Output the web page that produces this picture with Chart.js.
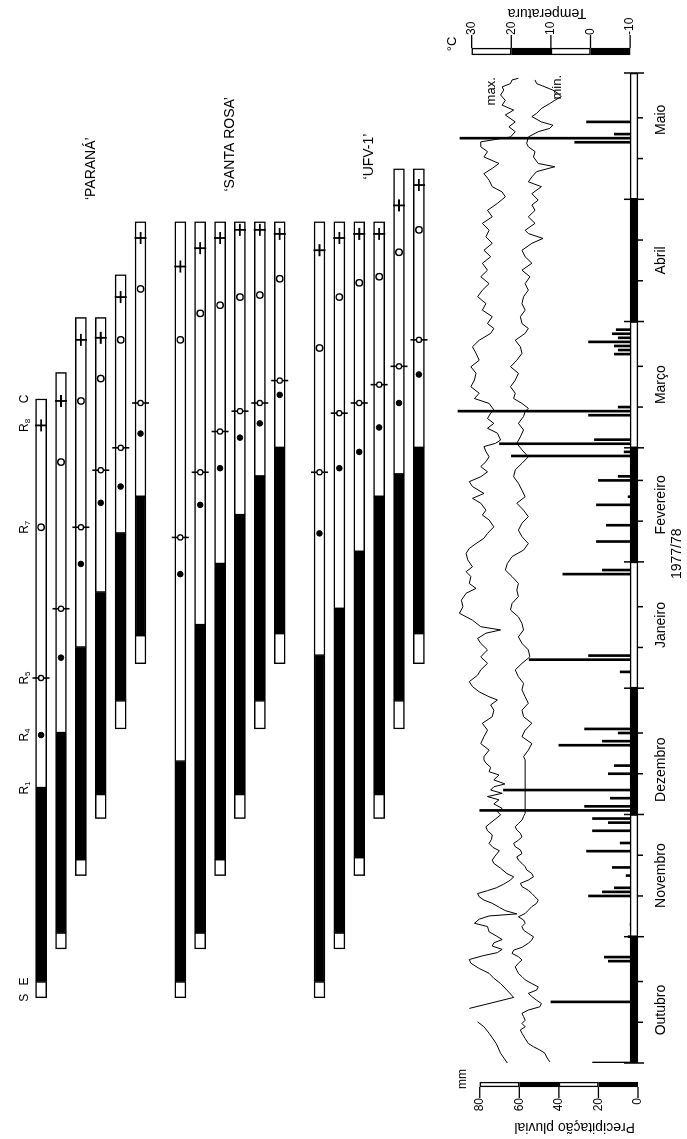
<!DOCTYPE html>
<html>
<head>
<meta charset="utf-8">
<script src="https://cdn.jsdelivr.net/npm/chart.js@4.4.1/dist/chart.umd.min.js"></script>
<style>
  html, body { margin: 0; padding: 0; background: #fff; }
  body { width: 687px; height: 1139px; overflow: hidden; position: relative; }
  /* the figure is drawn lying down (time left to right) and turned a quarter turn */
  #wrap { position: absolute; left: 0; top: 0; width: 1139px; height: 687px;
          transform-origin: 0 0; transform: translate(0, 1139px) rotate(-90deg); }
</style>
</head>
<body>
<div id="wrap"><canvas id="chart" width="1139" height="687"></canvas></div>
<script>
// days counted from 1 Oct 1977 (day 0)
const monthNames = ['Outubro', 'Novembro', 'Dezembro', 'Janeiro', 'Fevereiro', 'Março', 'Abril', 'Maio'];
const monthStarts = [0, 31, 61, 92, 123, 151, 182, 212, 243];
const monthLabelDays = [13, 46, 72, 107.5, 137, 166.5, 197, 231.5];

const cultivars = ['‘PARANÁ’', '‘SANTA ROSA’', '‘UFV-1’'];
const cultivarLabelDays = [219.5, 225.5, 222.5];

// 6 sowings per cultivar: Paraná 1-6, Santa Rosa 1-6, UFV-1 1-6
const sowing    = [16, 28, 46, 60, 82, 98,   16, 28, 46, 60, 82, 98,   16, 28, 46, 60, 82, 98];
const emergence = [20, 32, 50, 66, 89, 105,  20, 32, 50, 66, 89, 105.5, 20, 32, 50.5, 66, 89, 105.5];
const r1        = [67.5, 81, 102, 115.5, 130, 139,  74, 107.5, 122.5, 134.5, 144, 151,  100, 111.5, 125.5, 139, 144.5, 151];
const r4        = [80.5, 99.5, 122.5, 137.5, 141.5, 154.5,  120, 137, 146, 153.5, 157, 164,  130, 146, 150, 156, 162, 169];
const r5        = [94.5, 111.5, 131.5, 145.5, 151, 162,  129, 145, 155, 160, 162, 167.5,  145, 159.5, 162, 166.5, 171, 177.5];
const r7        = [131.5, 147.5, 162.5, 168, 177.5, 190,  177.5, 184, 186, 188, 188.5, 192.5,  175.5, 188, 191.5, 193, 199, 204.5];
const r8        = [156.5, 162.5, 177.5, 178, 188, 202.5,  195.5, 200, 202.5, 204.5, 204.5, 203.5,  199.5, 202.5, 203.5, 203.5, 210.5, 215.5];
const harvest   = [163, 169.5, 183, 183, 193.5, 206.5,  206.5, 206.5, 206.5, 206.5, 206.5, 206.5,  206.5, 206.5, 206.5, 206.5, 219.5, 219.5];

const phaseNames = ['S', 'E', 'R1', 'R4', 'R5', 'R7', 'R8', 'C'];

// daily rainfall, mm
const rainDays = [0, 15, 25, 26, 31, 34, 36, 41, 42, 43, 46, 48, 52, 54, 57, 59, 60, 62, 63, 65,
  67, 71, 73, 78, 79, 81, 82, 96, 97, 99, 100, 101, 107, 111, 118, 120, 121, 128, 132, 137,
  139, 143, 144, 149, 150, 152, 153, 159, 160, 161, 174, 175, 176, 177, 178, 179, 180, 226, 227, 228, 231];
const rainMM = [23, 44, 15, 17, 5, 4, 3, 25, 18, 12, 6, 13, 26, 9, 23, 15, 23, 80, 27, 14,
  68, 15, 12, 40, 18, 10, 27, 9, 2, 55, 25, 2, 3, 3, 3, 38, 18, 21, 16, 21,
  5, 20, 10, 64, 7, 70, 22, 25, 91, 10, 12, 10, 12, 25, 10, 13, 11, 32, 90, 12, 26];

// daily temperatures, [day, °C]
const tMax = [[0,21.0],[2.4,22.7],[4.8,23.8],[7.3,25.6],[8.9,26.9],[10.1,28.5],[11,null],[13.4,30.6],[16.1,19.4],
  [17.9,21.1],[19.5,22.7],[20.8,24.4],[22.0,25.6],[23.2,28.1],[24.5,30.2],[25.4,30.6],[26.3,27.3],[27.1,23.5],
  [27.9,22.3],[28.7,24.8],[29.5,24.4],[30.3,22.3],[31.2,23.8],[32.2,25.6],[33.5,26.0],[34.3,29.3],[35.3,28.1],
  [36.1,25.6],[36.6,18.6],[37.4,21.5],[38.2,23.0],[39.2,24.8],[40.0,26.9],[40.8,28.1],[41.6,28.5],[42.3,26.0],
  [43.0,23.8],[43.9,21.9],[44.9,20.2],[45.7,19.4],[46.5,21.1],[47.8,22.7],[49.0,24.4],[49.8,24.8],[50.8,24.1],
  [52.1,23.0],[52.9,24.6],[53.9,25.6],[54.9,25.0],[56.0,24.8],[57.0,26.0],[58.0,26.4],[58.8,25.4],[59.8,24.1],
  [60.9,22.7],[61.7,23.5],[62.5,22.3],[63.6,24.4],[64.6,23.1],[65.4,26.0],[66.2,22.3],[67.0,25.2],[67.8,24.4],
  [68.5,21.6],[69.5,24.4],[70.7,23.1],[71.5,25.6],[72.6,25.2],[73.6,26.4],[74.4,26.9],
  [75.2,26.9],[76.8,25.6],[78.4,27.7],[80.1,26.9],[81.7,26.0],[83.4,27.3],[85.0,24.8],[86.6,24.4],[87.9,25.2],
  [89.1,23.5],[89.9,25.6],[91.1,28.1],[92.4,29.8],[93.6,30.6],[95.2,28.5],[96.5,27.7],[98.1,26.0],[99.7,27.7],
  [101.4,26.0],[103.0,27.7],[104.2,28.5],[105.5,26.4],[106.3,22.7],[107.1,27.7],[108.7,29.8],[110.4,33.1],
  [112.0,32.2],[113.6,32.6],[115.3,31.4],[116.5,28.9],[117.7,30.6],[119.4,30.2],[120.6,31.4],[121.8,29.8],
  [123.5,31.0],[125.1,31.4],[126.3,30.6],[127.5,28.9],[128.8,26.9],[130.0,26.0],[131.6,24.4],[133.3,25.6],
  [134.5,27.3],[135.7,26.4],[137.4,27.7],[138.6,29.8],[139.8,26.9],[141.5,29.8],[142.7,30.6],[143.9,27.7],
  [145.1,26.0],[146.4,27.7],[147.6,26.4],[148.8,25.6],[150.1,26.4],[151.3,26.9],[152.1,24.0],[152.9,22.7],
  [154.6,23.5],[155.8,26.0],[157.0,24.4],[158.2,26.0],[159.5,25.2],[160.3,24.4],[161.9,25.6],[163.1,29.3],
  [164.4,28.1],[166.0,30.2],[167.65,29.3],
  [169.3,28.9],[170.9,30.2],[172.5,28.1],[174.2,28.9],[175.8,29.8],[177.4,28.1],[179.1,25.2],[180.3,24.4],
  [181.5,26.0],[183.2,24.8],[184.8,27.3],[186.4,26.4],[188.1,28.5],[189.7,27.3],[191.3,25.6],[193.0,27.7],
  [194.6,26.0],[196.3,27.3],[197.9,25.2],[199.5,26.9],[201.2,24.8],[202.8,26.4],[204.4,25.6],[206.1,27.3],
  [207.7,24.8],[209.3,26.0],[211.0,23.5],[212.6,21.5],[213.8,22.3],[215.1,24.8],[216.7,25.6],[218.3,26.9],
  [219.6,24.8],[220.8,23.1],[222.4,26.9],[223.7,26.0],[224.9,27.7],[226.1,27.7],[227.3,20.2],[228.6,19.0],
  [229.8,20.6],[231.0,19.0],[232.7,21.5],[233.9,19.4],[235.1,22.3],[236.3,21.5],[237.6,22.7],[238.8,21.9],
  [239.6,22.3],[240.4,20.2],[241.3,19.8],[241.7,18.2]];

const tMin = [[0.3,10.3],[1.5,11.1],[2.4,11.5],[3.2,12.8],[4.0,14.4],[4.8,15.7],[6.0,16.5],[7.3,17.3],[8.1,17.7],
  [8.9,16.5],[9.7,17.3],[10.5,16.5],[11.4,16.9],[12.2,17.3],[13.0,15.7],[13.8,12.8],[14.6,12.4],[15.4,13.6],
  [16.3,14.8],[17.1,15.7],[17.9,13.6],[18.7,13.2],[19.5,14.8],[20.4,16.5],[21.2,17.3],[22.0,18.2],[22.8,18.6],
  [23.6,19.0],[24.5,18.2],[25.3,17.3],[26.1,18.2],[26.9,19.8],[27.7,19.4],[28.4,17.3],[29.4,15.7],[30.2,14.8],
  [31.0,14.4],[31.8,15.7],[32.6,16.9],[33.5,17.3],[34.3,16.5],[35.1,16.9],[35.9,18.2],[36.7,16.5],[37.5,15.7],
  [38.4,14.8],[39.2,13.6],[40.0,13.2],[40.8,14.0],[41.6,14.8],[42.4,15.7],[43.3,17.3],[44.1,17.7],[44.9,15.7],
  [45.7,14.4],[46.5,14.8],[47.4,16.1],[48.2,16.5],[49.0,17.3],[49.8,18.2],[50.6,18.6],[51.4,17.3],[52.3,17.7],
  [53.1,19.0],[53.9,19.4],[54.7,18.2],[55.5,17.3],[56.4,17.7],[57.2,18.6],[58.0,19.0],[58.8,18.2],[59.6,17.3],
  [60.5,16.9],[61.3,16.5],[62.1,16.5],[74.4,16.5],
  [75.2,16.9],[76.8,15.7],[78.4,14.8],[80.1,17.3],[81.7,16.5],[83.4,14.8],[85.0,16.9],[86.6,17.3],[88.3,15.7],
  [89.9,16.5],[91.6,17.3],[93.2,16.9],[94.8,18.2],[96.5,19.0],[98.1,17.3],[99.7,15.3],[101.4,15.7],[103.0,17.3],
  [104.6,18.2],[106.3,16.9],[107.9,17.3],[109.5,18.2],[111.2,20.2],[112.8,19.8],[114.5,18.2],[116.1,18.6],
  [117.7,18.2],[119.4,19.8],[121.0,21.5],[122.6,21.0],[124.3,19.8],[125.9,16.9],[127.5,15.7],[129.2,17.3],
  [130.8,18.2],[132.5,17.3],[134.1,15.7],[135.7,16.9],[137.4,18.6],[139.0,16.5],[140.6,17.3],[142.3,18.2],
  [143.9,19.4],[145.6,19.0],[147.2,17.3],[148.8,15.7],[150.5,17.3],[152.1,18.6],[153.7,17.7],[155.4,16.9],
  [157.0,18.2],[158.7,16.9],[159.9,16.5],[160.7,15.7],[161.9,17.3],[163.1,19.4],[164.4,19.0],[166.0,20.2],
  [167.6,19.0],[169.3,18.2],[170.9,20.2],[172.5,18.6],[174.2,17.3],[175.8,17.7],[177.4,19.0],[179.1,16.5],
  [180.3,15.7],[181.5,17.3],[183.2,17.7],[184.8,16.5],[186.4,17.3],[188.1,16.9],[189.7,15.7],[191.3,16.5],
  [193.0,15.3],[194.6,17.3],[196.3,14.8],[197.9,16.5],[199.5,17.3],[201.2,14.8],[202.4,12.0],[203.6,15.7],
  [204.4,16.5],[206.1,14.0],[207.7,15.7],[209.3,14.0],[210.6,14.8],[211.8,13.2],[213.4,14.8],[215.1,12.4],
  [216.3,15.7],[217.5,14.8],[218.8,13.6],[220.0,9.0],[220.8,13.2],[222.4,14.4],[223.7,14.0],[224.9,15.7],
  [225.7,16.1],[227.3,15.7],[228.6,13.2],[229.4,10.3],[230.2,9.5],[231.0,12.4],[232.3,14.8],[233.1,13.6],
  [234.3,12.4],[235.5,10.3],[236.3,9.0],[237.2,7.4],[238.0,8.2],[238.8,9.5],[239.6,11.5],[240.4,13.6],[241.3,14.0]];

const precipTicks = [0, 20, 40, 60, 80];
const tempTicks = [-10, 0, 10, 20, 30];

const FONT = '"Liberation Sans", Arial, sans-serif';
Chart.defaults.font.family = FONT;
Chart.defaults.color = '#000';

// row of a bar on the gantt axis: a blank row between cultivars
const rowOf = k => Math.floor(k / 6) * 7 + (k % 6);
const ganttData = (a, b) => a.map((v, k) => ({ x: [v, b[k]], y: rowOf(k) }));
const markData = arr => arr.map((v, k) => ({ x: v, y: rowOf(k) }));

function ganttBar(label, a, b, fill) {
  return {
    type: 'bar', label, indexAxis: 'y', xAxisID: 'x', yAxisID: 'yg',
    data: ganttData(a, b), backgroundColor: fill, borderColor: '#000', borderWidth: 1.5,
    borderSkipped: false, barThickness: 11, grouped: false, order: 2
  };
}

function marker(label, arr, style, radius, fill, width, rotation) {
  return {
    type: 'line', label, showLine: false, xAxisID: 'x', yAxisID: 'yg', data: markData(arr),
    pointStyle: style, pointRadius: radius, pointBackgroundColor: fill, pointBorderColor: '#000',
    pointBorderWidth: width, pointRotation: rotation || 0, order: 1
  };
}

function segment(ctx, x0, y0, x1, y1) {
  ctx.beginPath(); ctx.moveTo(x0, y0); ctx.lineTo(x1, y1); ctx.stroke();
}

// alternate black / open blocks, like the scale bars of the original figure
function blockBar(ctx, horizontal, a, b, c, w, filled) {
  const r = horizontal ? [Math.min(a, b), c, Math.abs(b - a), w] : [c, Math.min(a, b), w, Math.abs(b - a)];
  ctx.fillStyle = filled ? '#000' : '#fff';
  ctx.fillRect(...r);
  ctx.strokeRect(r[0] + 0.6, r[1] + 0.6, r[2] - 1.2, r[3] - 1.2);
  ctx.fillStyle = '#000';
}

const scaleBars = {
  id: 'scaleBars',
  afterDatasetsDraw(chart) {
    const { ctx, chartArea: ca, scales: { x, yp, yt } } = chart;
    ctx.save();
    ctx.strokeStyle = '#000';
    ctx.lineWidth = 1.3;

    // time axis
    const base = yp.getPixelForValue(0);
    for (let i = 0; i < monthStarts.length - 1; i++) {
      blockBar(ctx, true, x.getPixelForValue(monthStarts[i]), x.getPixelForValue(monthStarts[i + 1]), base - 8, 8, i % 2 === 0);
    }
    ctx.lineWidth = 1.5;
    monthStarts.forEach(d => {
      const px = x.getPixelForValue(d);
      segment(ctx, px, base - 14, px, base + 6);
    });
    monthStarts.slice(0, -1).forEach(d => {
      [10, 20].forEach(k => {
        const px = x.getPixelForValue(d + k);
        segment(ctx, px, base, px, base + 5);
      });
    });

    // rainfall scale
    ctx.lineWidth = 1.3;
    const px0 = ca.left - 24;
    for (let i = 0; i < precipTicks.length - 1; i++) {
      blockBar(ctx, false, yp.getPixelForValue(precipTicks[i]), yp.getPixelForValue(precipTicks[i + 1]), px0, 5, i % 2 === 0);
    }
    precipTicks.forEach(v => {
      const py = yp.getPixelForValue(v);
      segment(ctx, px0 - 11, py, px0, py);
    });

    // temperature scale
    const tx0 = ca.right + 18;
    for (let i = 0; i < tempTicks.length - 1; i++) {
      blockBar(ctx, false, yt.getPixelForValue(tempTicks[i]), yt.getPixelForValue(tempTicks[i + 1]), tx0, 7, i % 2 === 0);
    }
    tempTicks.forEach(v => {
      const py = yt.getPixelForValue(v);
      segment(ctx, tx0 + 7, py, tx0 + 20, py);
    });
    ctx.restore();
  }
};

function phaseLabel(ctx, label, px, py) {
  const main = label[0], sub = label.slice(1);
  ctx.font = '12px ' + FONT;
  const w = ctx.measureText(main).width;
  ctx.font = '8px ' + FONT;
  const ws = sub ? ctx.measureText(sub).width : 0;
  const start = px - (w + ws) / 2;
  ctx.textAlign = 'left';
  ctx.font = '12px ' + FONT;
  ctx.fillText(main, start, py);
  if (sub) {
    ctx.font = '8px ' + FONT;
    ctx.fillText(sub, start + w, py + 4);
  }
}

const texts = {
  id: 'texts',
  afterDraw(chart) {
    const { ctx, chartArea: ca, scales: { x, yp, yt, yg } } = chart;
    ctx.save();
    ctx.fillStyle = '#000';
    ctx.textBaseline = 'middle';

    const firstBar = [sowing, emergence, r1, r4, r5, r7, r8, harvest].map(a => a[0]);
    phaseNames.forEach((n, i) => phaseLabel(ctx, n, x.getPixelForValue(firstBar[i]), yg.getPixelForValue(-0.85)));

    ctx.textAlign = 'center';
    ctx.font = '14px ' + FONT;
    cultivars.forEach((c, g) => ctx.fillText(c, x.getPixelForValue(cultivarLabelDays[g]), yg.getPixelForValue(g * 7 + 2.5)));

    ctx.font = '13px ' + FONT;
    ctx.fillText('max.', x.getPixelForValue(238.5), yt.getPixelForValue(25));
    ctx.fillText('min.', x.getPixelForValue(239.5), yt.getPixelForValue(8.3));

    ctx.font = '12px ' + FONT;
    ctx.fillText('mm', ca.left - 16, yp.getPixelForValue(88.5));
    ctx.font = '13px ' + FONT;
    ctx.fillText('°C', ca.right + 29, yt.getPixelForValue(34.8));

    ctx.font = '14px ' + FONT;
    ctx.fillText('1977/78', x.getPixelForValue(125), ca.bottom + 39);

    ctx.save();
    ctx.translate(ca.left - 64, yp.getPixelForValue(32));
    ctx.rotate(-Math.PI / 2);
    ctx.fillText('Precipitação pluvial', 0, 0);
    ctx.restore();

    ctx.save();
    ctx.translate(ca.right + 60, yt.getPixelForValue(11));
    ctx.rotate(-Math.PI / 2);
    ctx.fillText('Temperatura', 0, 0);
    ctx.restore();

    ctx.restore();
  }
};

const hidden = { display: false };

new Chart(document.getElementById('chart'), {
  type: 'line',
  data: {
    datasets: [
      marker('R5 circle', r5, 'circle', 2.6, '#fff', 1.3),
      marker('R5 line', r5, 'line', 8.5, '#000', 1.6, 90),
      marker('R4', r4, 'circle', 2.8, '#000', 1),
      marker('R7', r7, 'circle', 3.2, '#fff', 1.4),
      marker('R8', r8, 'cross', 6, '#000', 1.8),
      ganttBar('S-E', sowing, emergence, '#fff'),
      ganttBar('E-R1', emergence, r1, '#000'),
      ganttBar('R1-C', r1, harvest, '#fff'),
      {
        type: 'line', label: 'max.', data: tMax, xAxisID: 'x', yAxisID: 'yt',
        borderColor: '#000', borderWidth: 1, pointRadius: 0, tension: 0, order: 3
      },
      {
        type: 'line', label: 'min.', data: tMin, xAxisID: 'x', yAxisID: 'yt',
        borderColor: '#000', borderWidth: 1, pointRadius: 0, tension: 0, order: 3
      },
      {
        type: 'bar', label: 'Precipitação', xAxisID: 'x', yAxisID: 'yp',
        data: rainDays.map((d, i) => ({ x: d, y: rainMM[i] })),
        backgroundColor: '#000', barThickness: 2, grouped: false, order: 4
      }
    ]
  },
  options: {
    responsive: false,
    animation: false,
    events: [],
    layout: { padding: 0 },
    plugins: { legend: hidden, tooltip: { enabled: false } },
    scales: {
      x: {
        type: 'linear', position: 'bottom', min: 0, max: 243, offset: false, bounds: 'data',
        grid: { display: false, drawTicks: false, offset: false }, border: hidden,
        afterBuildTicks: s => { s.ticks = monthLabelDays.map(v => ({ value: v })); },
        afterFit: s => { s.height = 49; s.paddingLeft = 0; s.paddingRight = 0; },
        ticks: {
          autoSkip: false, maxRotation: 0, minRotation: 0, padding: 15,
          font: { size: 14 }, callback: (v, i) => monthNames[i]
        }
      },
      yp: {
        type: 'linear', axis: 'y', position: 'left', min: 0, max: 317.4, bounds: 'data',
        grid: { display: false, drawTicks: false }, border: hidden,
        afterBuildTicks: s => { s.ticks = precipTicks.map(v => ({ value: v })); },
        afterFit: s => { s.width = 76; s.paddingTop = 0; s.paddingBottom = 0; },
        ticks: { padding: 35, font: { size: 12 }, callback: v => String(v) }
      },
      yt: {
        type: 'linear', axis: 'y', position: 'right', min: -11.99, max: 146.52, bounds: 'data',
        grid: { display: false, drawTicks: false }, border: hidden,
        afterBuildTicks: s => { s.ticks = tempTicks.map(v => ({ value: v })); },
        afterFit: s => { s.width = 73; s.paddingTop = 0; s.paddingBottom = 0; },
        ticks: { padding: 38, font: { size: 12 }, callback: v => String(v) }
      },
      yg: {
        type: 'linear', axis: 'y', position: 'left', display: false, offset: false,
        grid: { offset: false },
        min: -1.56, max: 30.02, reverse: true, bounds: 'data'
      }
    }
  },
  plugins: [scaleBars, texts]
});
</script>
</body>
</html>
